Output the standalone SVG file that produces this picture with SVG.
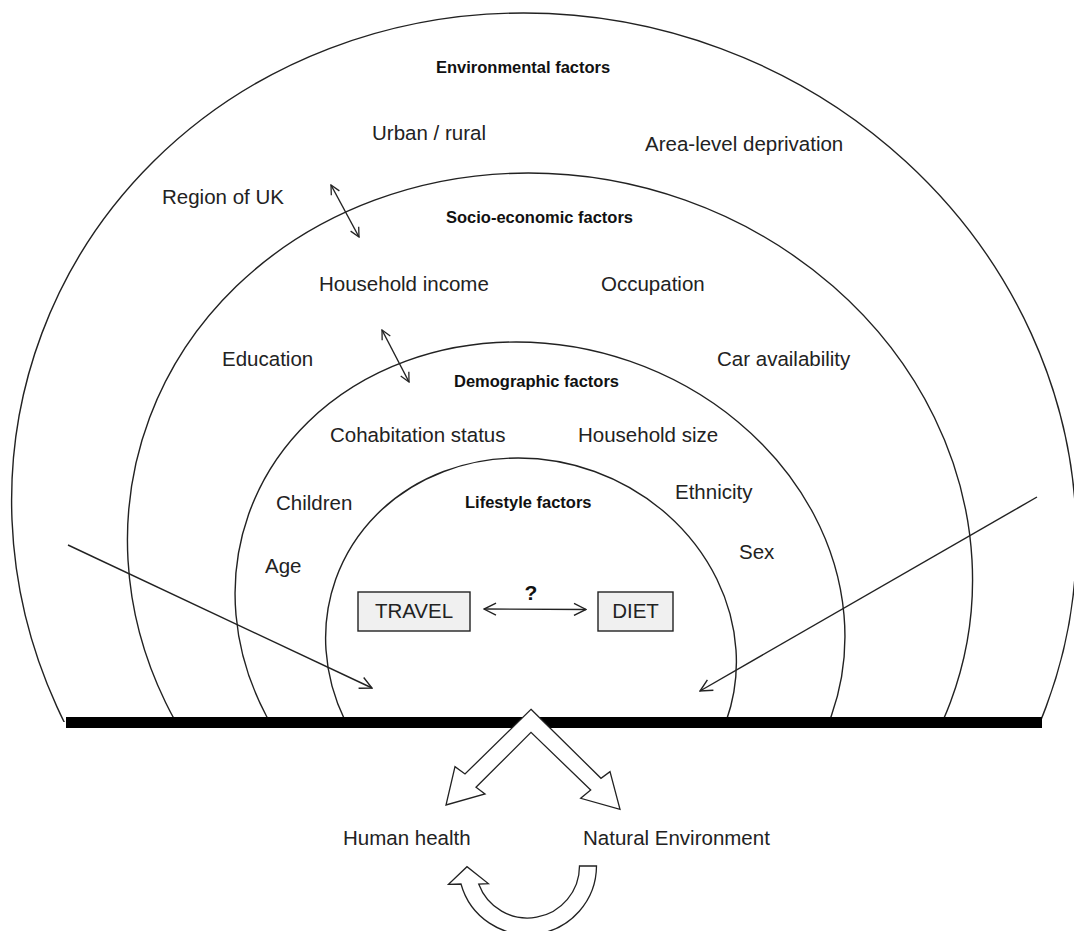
<svg xmlns="http://www.w3.org/2000/svg" width="1074" height="931" viewBox="0 0 1074 931">
<style>
.arc{fill:none;stroke:#222;stroke-width:1.4}
.ln{fill:none;stroke:#222;stroke-width:1.4}
.t{font-family:"Liberation Sans",Arial,sans-serif;font-size:20.5px;fill:#222}
.h{font-family:"Liberation Sans",Arial,sans-serif;font-size:16.5px;font-weight:bold;fill:#111}
.box{fill:#f0f0f0;stroke:#222;stroke-width:1.4}
.blk{fill:#fff;stroke:#222;stroke-width:1.3;stroke-linejoin:miter}
</style>
<defs>
<clipPath id="above"><rect x="0" y="0" width="1074" height="722"/></clipPath>
<marker id="ah" viewBox="0 0 14 14" refX="13" refY="7" markerWidth="14" markerHeight="14" markerUnits="userSpaceOnUse" orient="auto-start-reverse"><path d="M1,1 L13,7 L1,13" fill="none" stroke="#222" stroke-width="1.4"/></marker>
<marker id="ahs" viewBox="0 0 12 12" refX="11" refY="6" markerWidth="11" markerHeight="11" markerUnits="userSpaceOnUse" orient="auto-start-reverse"><path d="M1,1 L11,6 L1,11" fill="none" stroke="#222" stroke-width="1.4"/></marker>
</defs>
<rect width="1074" height="931" fill="#fff"/>
<g id="rings" clip-path="url(#above)">
<ellipse id="ring-environmental" class="arc" cx="0" cy="0" rx="532" ry="507" transform="translate(544,520) skewX(2.3)"/>
<ellipse id="ring-socioeconomic" class="arc" cx="0" cy="0" rx="422" ry="387" transform="translate(550,560) skewX(3.2)"/>
<ellipse id="ring-demographic" class="arc" cx="0" cy="0" rx="304" ry="273" transform="translate(540,615) skewX(5)"/>
<ellipse id="ring-lifestyle" class="arc" cx="0" cy="0" rx="205" ry="192" transform="translate(531,650) skewX(3.8)"/>
</g>
<rect id="baseline" x="66" y="717" width="976" height="11" fill="#000"/>
<g id="labels">
<text class="h" x="436" y="73">Environmental factors</text>
<text class="t" x="372" y="140">Urban / rural</text>
<text class="t" x="645" y="151">Area-level deprivation</text>
<text class="t" x="162" y="204">Region of UK</text>
<text class="h" x="446" y="223">Socio-economic factors</text>
<text class="t" x="319" y="291">Household income</text>
<text class="t" x="601" y="291">Occupation</text>
<text class="t" x="222" y="366">Education</text>
<text class="t" x="717" y="366">Car availability</text>
<text class="h" x="454" y="387">Demographic factors</text>
<text class="t" x="330" y="442">Cohabitation status</text>
<text class="t" x="578" y="442">Household size</text>
<text class="t" x="276" y="510">Children</text>
<text class="h" x="465" y="508">Lifestyle factors</text>
<text class="t" x="675" y="499">Ethnicity</text>
<text class="t" x="265" y="573">Age</text>
<text class="t" x="739" y="559">Sex</text>
</g>
<g id="travel">
<rect class="box" x="358" y="592" width="112" height="39"/>
<text class="t" x="414" y="618" text-anchor="middle">TRAVEL</text>
</g>
<g id="diet">
<rect class="box" x="598" y="592" width="75" height="39"/>
<text class="t" x="635.5" y="618" text-anchor="middle">DIET</text>
</g>
<text id="question" x="531" y="600" text-anchor="middle" font-family="Liberation Sans, Arial, sans-serif" font-size="21" font-weight="bold" fill="#111">?</text>
<g id="connectors">
<line class="ln" x1="484" y1="609" x2="586" y2="609.5" marker-start="url(#ah)" marker-end="url(#ah)"/>
<line class="ln" x1="331" y1="185" x2="359" y2="237" marker-start="url(#ahs)" marker-end="url(#ahs)"/>
<line class="ln" x1="382" y1="330" x2="409" y2="382" marker-start="url(#ahs)" marker-end="url(#ahs)"/>
<line class="ln" x1="68" y1="545" x2="372" y2="688" marker-end="url(#ah)"/>
<line class="ln" x1="1037" y1="497" x2="700" y2="691" marker-end="url(#ah)"/>
</g>
<g id="impact-arrow">
<path class="blk" d="M531,709.3 L601,778.3 L610,771.7 L620,809.3 L580.7,798.3 L590.7,790 L531,732.3 L476,787.3 L485,794 L446,805 L455,766.7 L465,774 Z"/>
</g>
<g id="outcomes">
<text class="t" x="343" y="845">Human health</text>
<text class="t" x="583" y="845">Natural Environment</text>
</g>
<g id="cycle-arrow">
<path class="blk" d="M579.5,866 L596.5,866 A69,69 0 0 1 461,884 L448.5,884.3 L467,866.7 L488.3,883.6 L478.7,884 A52,52 0 0 0 579.5,866 Z"/>
</g>
</svg>
